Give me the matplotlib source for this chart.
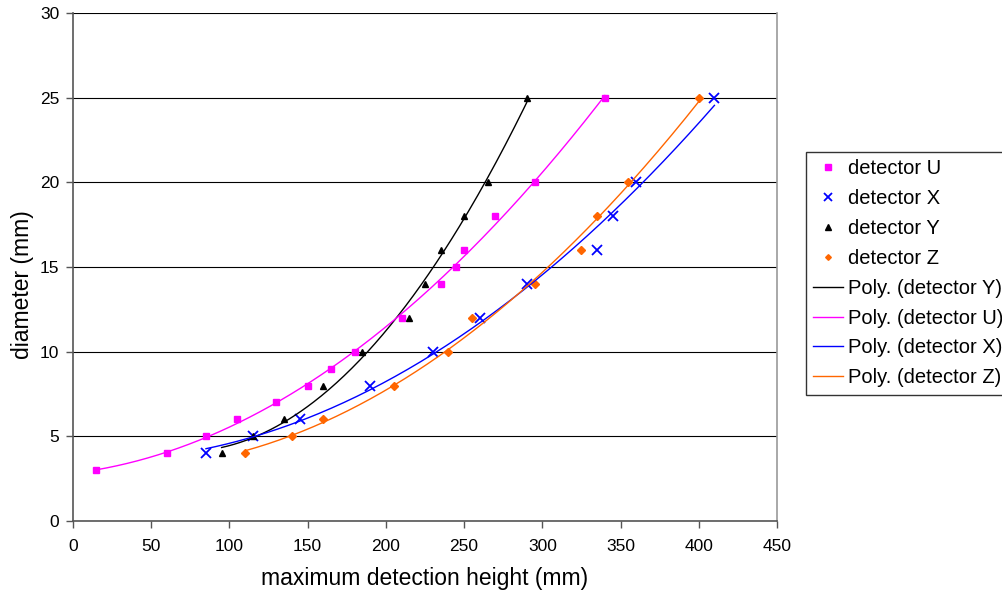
import numpy as np
import matplotlib
matplotlib.use("Agg")
import matplotlib.pyplot as plt

plt.rcParams['font.family'] = ['Liberation Sans', 'DejaVu Sans']

# Data
u_x = [15, 60, 85, 105, 130, 150, 165, 180, 210, 235, 245, 250, 270, 295, 340]
u_y = [3, 4, 5, 6, 7, 8, 9, 10, 12, 14, 15, 16, 18, 20, 25]
x_x = [85, 115, 145, 190, 230, 260, 290, 335, 345, 360, 410]
x_y = [4, 5, 6, 8, 10, 12, 14, 16, 18, 20, 25]
y_x = [95, 115, 135, 160, 185, 215, 225, 235, 250, 265, 290]
y_y = [4, 5, 6, 8, 10, 12, 14, 16, 18, 20, 25]
z_x = [110, 140, 160, 205, 240, 255, 295, 325, 335, 355, 400]
z_y = [4, 5, 6, 8, 10, 12, 14, 16, 18, 20, 25]

x_ticks = [0, 50, 100, 150, 200, 250, 300, 350, 400, 450]
y_ticks = [0, 5, 10, 15, 20, 25, 30]

C_U = '#FF00FF'
C_X = '#0000FF'
C_Y = '#000000'
C_Z = '#FF6600'

W, H = 1002, 594
fig = plt.figure(figsize=(W/100, H/100), dpi=100)
ax = fig.add_axes([73/W, 1-521/H, (777-73)/W, (521-13)/H])

def trend(xs, ys):
    c = np.polyfit(xs, ys, 2)
    t = np.linspace(min(xs), max(xs), 200)
    return t, np.polyval(c, t)

h_u, = ax.plot(u_x, u_y, 's', color=C_U, ms=4.8, ls='none', label='detector U')
h_x, = ax.plot(x_x, x_y, 'x', color=C_X, ms=7.5, mew=1.3, ls='none', label='detector X')
h_y, = ax.plot(y_x, y_y, '^', color=C_Y, ms=4.8, ls='none', label='detector Y')
h_z, = ax.plot(z_x, z_y, 'D', color=C_Z, ms=3.6, ls='none', label='detector Z')

t, v = trend(y_x, y_y)
p_y, = ax.plot(t, v, color=C_Y, lw=1, label='Poly. (detector Y)')
t, v = trend(u_x, u_y)
p_u, = ax.plot(t, v, color=C_U, lw=1, label='Poly. (detector U)')
t, v = trend(x_x, x_y)
p_x, = ax.plot(t, v, color=C_X, lw=1, label='Poly. (detector X)')
t, v = trend(z_x, z_y)
p_z, = ax.plot(t, v, color=C_Z, lw=1, label='Poly. (detector Z)')

ax.set_xlim(0, 450)
ax.set_ylim(0, 30)
ax.set_xticks(x_ticks)
ax.set_yticks(y_ticks)
ax.yaxis.grid(True, color='black', lw=0.8)
ax.set_axisbelow(True)
ax.tick_params(direction='out', length=5, width=1, color='#555555', labelsize=12.5)
ax.tick_params(axis='x', pad=8)
ax.tick_params(axis='y', pad=5)
for s in ['left', 'bottom']:
    ax.spines[s].set_color('#555555')
    ax.spines[s].set_linewidth(1.2)
ax.spines['top'].set_visible(False)
ax.spines['right'].set_color('#999999')
ax.spines['right'].set_linewidth(1.2)

ax.set_xlabel('maximum detection height (mm)', fontsize=16.5)
ax.set_ylabel('diameter (mm)', fontsize=16.5)
ax.xaxis.set_label_coords((425-73)/704, (521-578)/508)
ax.xaxis.label.set_va('center')
ax.yaxis.set_label_coords((23-73)/704, (521-285)/508)
ax.yaxis.label.set_va('center')

leg = fig.legend(handles=[h_u, h_x, h_y, h_z, p_y, p_u, p_x, p_z],
                 loc='upper left', bbox_to_anchor=(806/W, 1-152/H),
                 borderaxespad=0, fontsize=14.5, frameon=True, fancybox=False,
                 edgecolor='black', handlelength=1.5, handletextpad=0.25,
                 labelspacing=0.54, borderpad=0.36, markerscale=0.8)
leg.get_frame().set_linewidth(1)

fig.savefig('out.png', dpi=100)
